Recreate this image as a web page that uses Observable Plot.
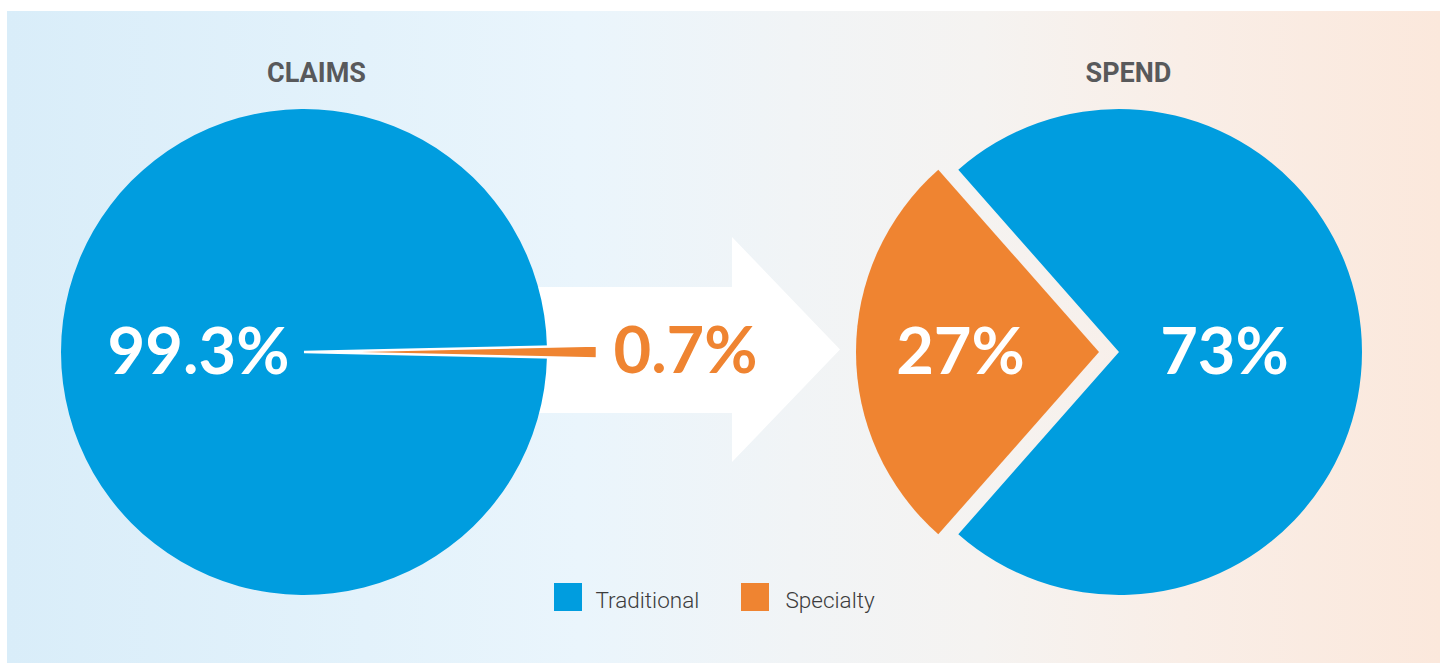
<!DOCTYPE html>
<html>
<head>
<meta charset="utf-8">
<script src="https://cdn.jsdelivr.net/npm/d3@7"></script>
<script src="https://cdn.jsdelivr.net/npm/@observablehq/plot@0.6"></script>
<style>
  html, body { margin: 0; padding: 0; background: #ffffff; }
  #wrap { position: relative; width: 1440px; height: 663px; overflow: hidden; }
  #bg { position: absolute; left: 7px; top: 11px; right: 0; bottom: 0;
        background: linear-gradient(to right, #d9edf9 0%, #e3f2fb 25%, #eaf5fc 40%, #f1f4f6 55%, #f5f3f1 68%, #f9eee7 82%, #fbe8dc 100%); }
  #chart { position: absolute; left: 0; top: 0; }
</style>
</head>
<body>
<div id="wrap"><div id="bg"></div><div id="chart"></div></div>
<script>
// ---- data ----
const groups = ["CLAIMS", "SPEND"];
const categories = ["Traditional", "Specialty"];
const claims = [99.3, 0.7];   // % of claims: Traditional, Specialty
const spend = [73, 27];       // % of spend: Traditional, Specialty
const colors = ["#009ddf", "#ef8431"];

// ---- layout ----
const W = 1440, H = 663;
const pies = [
  {group: "CLAIMS", values: claims, cx: 304, cy: 352, r: 243, specAngle: Math.PI / 2, explode: 0, specR: 293, specStroke: "white"},
  {group: "SPEND", values: spend, cx: 1119, cy: 352, r: 243, specAngle: 3 * Math.PI / 2, explode: 20, specR: 243, specStroke: "none"}
];
const titleX = [316, 1128];
const labelPos = [
  {x: 198, y: 373, fill: "white"},  // claims traditional
  {x: 685, y: 372, fill: colors[1]}, // claims specialty
  {x: 1224, y: 373, fill: "white"},  // spend traditional
  {x: 960, y: 373, fill: "white"}    // spend specialty
];
const labels = [
  {text: claims[0] + "%", ...labelPos[0]},
  {text: claims[1] + "%", ...labelPos[1]},
  {text: spend[0] + "%", ...labelPos[2]},
  {text: spend[1] + "%", ...labelPos[3]}
];
const arrow = [
  {x: 500, y1: 287, y2: 413},
  {x: 732, y1: 287, y2: 413},
  {x: 732, y1: 237, y2: 462},
  {x: 840, y1: 349.5, y2: 349.5}
];
const legendX = [554, 741];
const legendTextX = [595, 785];

function pieMark(index, scales) {
  const sx = scales.x, sy = scales.y, color = scales.color;
  const g = d3.create("svg:g");
  for (const p of pies) {
    const a = p.values[1] / 100 * 2 * Math.PI;
    const start = p.specAngle + a / 2;
    const arcs = d3.pie().sort(null).startAngle(start).endAngle(start + 2 * Math.PI)(p.values);
    const cx = sx(p.cx), cy = sy(p.cy);
    const rPix = sx(p.r) - sx(0);
    arcs.forEach((arc, i) => {
      const isSpec = i === 1;
      const outer = isSpec ? sx(p.specR) - sx(0) : rPix;
      const mid = (arc.startAngle + arc.endAngle) / 2;
      const ex = isSpec ? Math.sin(mid) * p.explode : 0;
      const ey = isSpec ? -Math.cos(mid) * p.explode : 0;
      g.append("path")
        .attr("transform", `translate(${cx + ex},${cy + ey})`)
        .attr("d", d3.arc().innerRadius(0).outerRadius(outer)(arc))
        .attr("fill", color(categories[i]))
        .attr("stroke", isSpec ? p.specStroke : "none")
        .attr("stroke-width", 2.5)
        .attr("stroke-linejoin", "miter");
    });
  }
  return g.node();
}

const plot = Plot.plot({
  width: W,
  height: H,
  margin: 0,
  style: {background: "transparent", overflow: "visible"},
  x: {domain: [0, W], range: [0, W], axis: null},
  y: {domain: [0, H], range: [0, H], axis: null},
  color: {domain: categories, range: colors},
  marks: [
    Plot.area(arrow, {x1: "x", y1: "y1", y2: "y2", fill: "white", curve: "linear"}),
    pieMark,
    Plot.text(groups, {
      x: (d, i) => titleX[i], y: 81, text: d => d, lineAnchor: "bottom",
      fontFamily: "Roboto", fontWeight: 700, fontSize: 27, fill: "#58595b"
    }),
    Plot.text(labels, {
      x: "x", y: "y", text: "text", lineAnchor: "bottom", fill: d => d.fill,
      fontFamily: "Lato", fontWeight: 700, fontSize: 65
    }),
    Plot.rect(categories, {
      x1: (d, i) => legendX[i], x2: (d, i) => legendX[i] + 28, y1: 583, y2: 611, fill: d => d
    }),
    Plot.text(categories, {
      x: (d, i) => legendTextX[i], y: 607, text: d => d, textAnchor: "start", lineAnchor: "bottom",
      fontFamily: "Roboto", fontWeight: 300, fontSize: 22.5, fill: "#3c3c3c"
    })
  ]
});
document.getElementById("chart").appendChild(plot);
</script>
</body>
</html>
